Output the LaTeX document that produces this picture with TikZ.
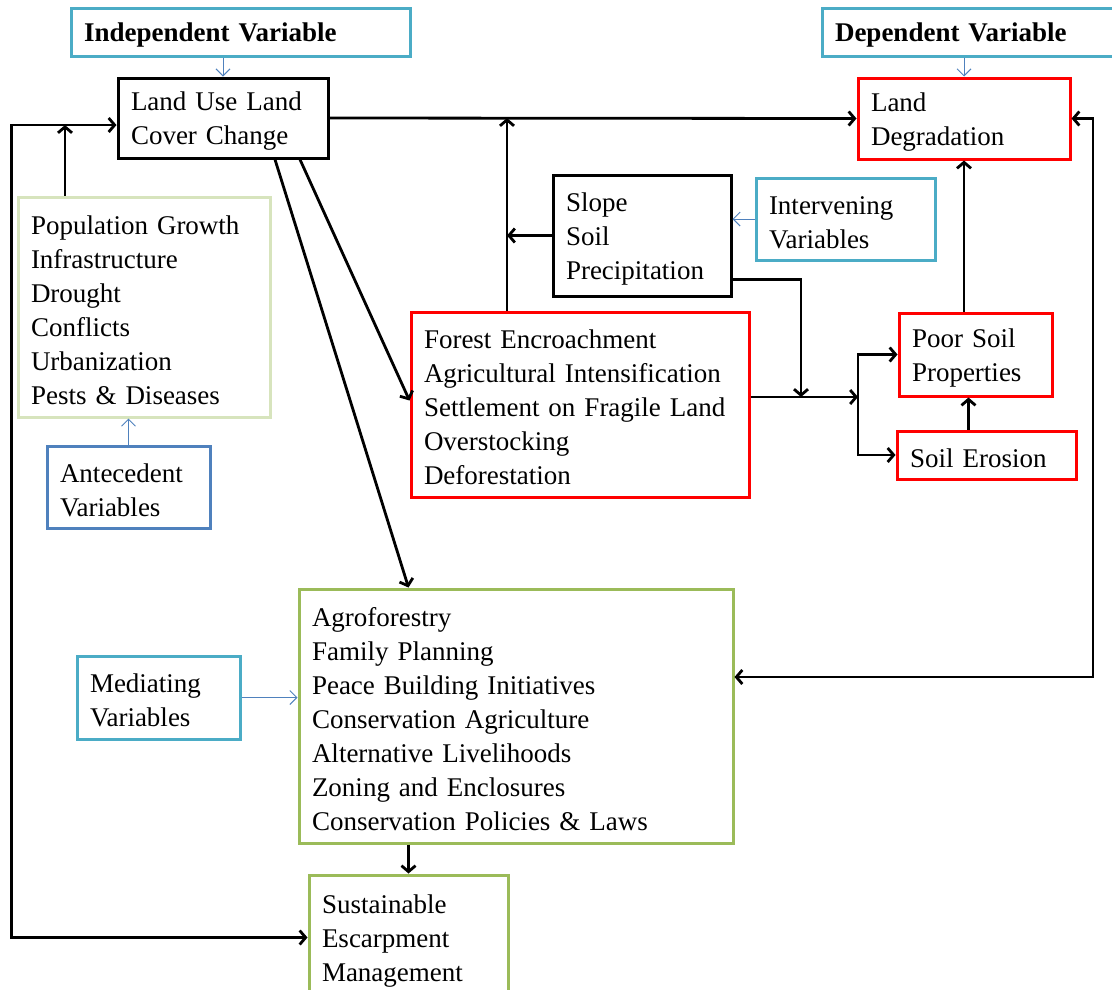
\documentclass[tikz,border=0pt]{standalone}
\usepackage{fontspec}
\setmainfont{Liberation Serif}
\usetikzlibrary{arrows.meta}

\definecolor{tealline}{HTML}{4BACC6}
\definecolor{blueline}{HTML}{4F81BD}
\definecolor{paleline}{HTML}{D7E4BD}
\definecolor{greenline}{HTML}{9BBB59}

\begin{document}
\begin{tikzpicture}[
        x=1pt, y=-1pt,
        font=\fontsize{27}{34}\selectfont,
        box/.style={draw, line width=3pt, align=left, inner xsep=13pt, inner ysep=0pt,
          execute at begin node={\rule{0pt}{25pt}}},
        blackbox/.style={box, draw=black},
        redbox/.style={box, draw=red},
        tealbox/.style={box, draw=tealline},
        bluebox/.style={box, draw=blueline},
        palebox/.style={box, draw=paleline},
        greenbox/.style={box, draw=greenline},
        link/.style={line width=2.8pt, -{Straight Barb[length=6pt,width=14pt]}},
        twoway/.style={line width=2.8pt, {Straight Barb[length=6pt,width=14pt]}-{Straight Barb[length=6pt,width=14pt]}},
        cue/.style={draw=blueline, line width=1pt, -{Straight Barb[length=7pt,width=14pt]}},
      ]

      \useasboundingbox (0,0) rectangle (1112,989);
      \clip (0,0) rectangle (1112,989);

      \node[tealbox, minimum width=339, minimum height=48, text width=313] (indep) at (240.5, 32) {\textbf{Independent Variable}};
      \node[blackbox, minimum width=210, minimum height=80, text width=184] (lulc) at (223, 118) {Land Use Land\\Cover Change};
      \node[tealbox, minimum width=303, minimum height=48, text width=277] (dep) at (973.5, 32) {\textbf{Dependent Variable}};
      \node[redbox, minimum width=212, minimum height=81, text width=186] (landdeg) at (964, 118.5) {Land\\Degradation};
      \node[blackbox, minimum width=178, minimum height=121, text width=152] (slope) at (642, 235.5) {Slope\\Soil\\Precipitation};
      \node[tealbox, minimum width=179, minimum height=82, text width=153] (interv) at (845.5, 219) {Intervening\\Variables};
      \node[redbox, minimum width=338, minimum height=185, text width=312] (forest) at (580, 404.5) {Forest Encroachment\\Agricultural Intensification\\Settlement on Fragile Land\\Overstocking\\Deforestation};
      \node[redbox, minimum width=153, minimum height=83, text width=127] (poorsoil) at (975.5, 354.5) {Poor Soil\\Properties};
      \node[redbox, minimum width=179, minimum height=48, text width=153] (erosion) at (986.5, 455) {Soil Erosion};
      \node[palebox, minimum width=252, minimum height=220, text width=226] (causes) at (144, 307) {Population Growth\\Infrastructure\\Drought\\Conflicts\\Urbanization\\Pests \& Diseases};
      \node[bluebox, minimum width=163, minimum height=82, text width=137] (antec) at (128.5, 487) {Antecedent\\Variables};
      \node[greenbox, minimum width=434, minimum height=254, text width=408] (strat) at (516, 716) {Agroforestry\\Family Planning\\Peace Building Initiatives\\Conservation Agriculture\\Alternative Livelihoods\\Zoning and Enclosures\\Conservation Policies \& Laws};
      \node[tealbox, minimum width=163, minimum height=83, text width=137] (mediat) at (158.5, 697.5) {Mediating\\Variables};
      \node[greenbox, minimum width=199, minimum height=125, text width=173] (sem) at (408.5, 937.5) {Sustainable\\Escarpment\\Management};

      \coordinate (upjoin) at (65, 125);
      \coordinate (merge) at (801, 397);
      \coordinate (split) at (858, 397);
      \coordinate (rightrun) at (1093, 0);

      \draw[cue] (lulc.north |- indep.south) -- (lulc.north);
      \draw[cue] (landdeg.north |- dep.south) -- (landdeg.north);
      \draw[cue] (interv.west) -- (interv.west -| slope.east);
      \draw[cue] (antec.north) -- (antec.north |- causes.south);
      \draw[cue] (mediat.east) -- (mediat.east -| strat.west);

      \draw[link] (lulc.east) -- (landdeg.west);
      \draw[twoway] ([yshift=-7pt]lulc.west) -- ++(-105,0) |- (sem.west);
      \draw[link] (causes.north -| upjoin) -- (upjoin);
      \draw[link] ([xshift=52pt]lulc.south) -- (sem.north |- strat.north);
      \draw[link] ([xshift=77pt]lulc.south) -- ([yshift=4pt]forest.west);
      \draw[link] ([xshift=-73pt]forest.north) -- ([xshift=-73pt]forest.north |- lulc.east);
      \draw[link] (slope.west) -- ([xshift=-73pt]forest.north |- slope.west);
      \draw[link] ([yshift=-44pt]slope.east) -| (merge);
      \draw[link] (forest.east |- split) -- (split);
      \draw[link] (split) |- (poorsoil.west);
      \draw[link] (split) |- (erosion.west);
      \draw[link] ([xshift=-7pt]poorsoil.south |- erosion.north) -- ([xshift=-7pt]poorsoil.south);
      \draw[link] (landdeg.south |- poorsoil.north) -- (landdeg.south);
      \draw[twoway] ([yshift=39pt]strat.east) -| (rightrun |- landdeg.east) -- (landdeg.east);
      \draw[link] (sem.north |- strat.south) -- (sem.north);

    \end{tikzpicture}
\end{document}
